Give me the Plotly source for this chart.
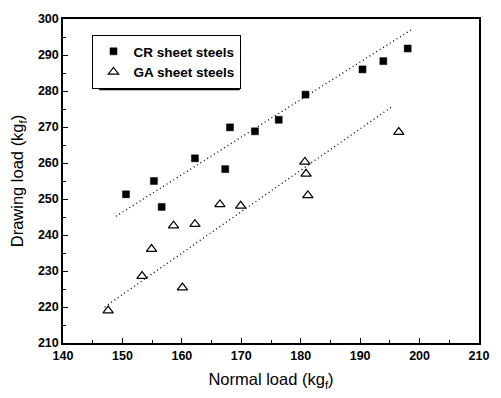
import plotly.graph_objects as go

# CR sheet steels (filled squares)
cr_normal = [150.6, 155.3, 156.6, 162.2, 167.3, 168.1, 172.3, 176.3, 180.8, 190.4, 193.9, 198.0]
cr_drawing = [251.3, 255.0, 247.8, 261.3, 258.3, 269.9, 268.8, 272.0, 279.0, 286.0, 288.3, 291.8]

# GA sheet steels (open triangles)
ga_normal = [147.6, 153.3, 154.9, 158.6, 160.1, 162.2, 166.4, 169.9, 180.7, 180.9, 181.2, 196.5]
ga_drawing = [219.0, 228.6, 236.1, 242.6, 225.4, 243.0, 248.5, 248.1, 260.3, 257.0, 251.0, 268.6]

# fitted trend lines (endpoints)
cr_fit_x = [148.9, 198.6]
cr_fit_y = [245.2, 297.0]
ga_fit_x = [147.0, 195.3]
ga_fit_y = [220.0, 275.6]

x_ticks = [140, 150, 160, 170, 180, 190, 200, 210]
y_ticks = [210, 220, 230, 240, 250, 260, 270, 280, 290, 300]

FONT = "Arial, Liberation Sans"

fig = go.Figure()
for fx, fy in [(cr_fit_x, cr_fit_y), (ga_fit_x, ga_fit_y)]:
    fig.add_trace(go.Scatter(x=fx, y=fy, mode="lines",
                             line=dict(color="black", width=1.3, dash="1px,3px"),
                             showlegend=False, hoverinfo="skip"))
fig.add_trace(go.Scatter(x=cr_normal, y=cr_drawing, mode="markers",
                         name="CR sheet steels",
                         marker=dict(symbol="square", size=7, color="black",
                                     line=dict(color="black", width=0.5))))
fig.add_trace(go.Scatter(x=ga_normal, y=ga_drawing, mode="markers",
                         name="GA sheet steels",
                         marker=dict(symbol="triangle-up-open", size=9, color="black",
                                     line=dict(color="black", width=1.2))))

W, H = 501, 398
L, R, T, B = 63, 12, 19, 52
pw, ph = W - L - R, H - T - B

def px2paper(x, y):
    return (x - L) / pw, 1 - (y - T) / ph

# legend shadow
x0, y0 = px2paper(100, 45)
x1, y1 = px2paper(244, 91)
fig.add_shape(type="rect", xref="paper", yref="paper", x0=x0, y0=y1, x1=x1, y1=y0,
              fillcolor="black", line=dict(width=0), layer="above")

lx, ly = px2paper(93, 35)
axis_common = dict(
    showgrid=False, zeroline=False, showline=True, linecolor="black", linewidth=1.5,
    mirror=True, ticks="inside", ticklen=5, tickwidth=1.3, tickcolor="black",
    tickfont=dict(family=FONT, size=12.5, color="black", weight="bold"),
)
fig.update_layout(
    width=W, height=H,
    margin=dict(l=L, r=R, t=T, b=B),
    paper_bgcolor="white", plot_bgcolor="white",
    xaxis=dict(range=[140, 210], tickvals=x_ticks,
               title=dict(text="Normal load (kg<sub>f</sub>)", standoff=12,
                          font=dict(family=FONT, size=16.5, color="black")),
               minor=dict(ticks="inside", ticklen=3, tickwidth=1, tickcolor="black", dtick=5),
               **axis_common),
    yaxis=dict(range=[210, 300], tickvals=y_ticks,
               title=dict(text="Drawing load (kg<sub>f</sub>)", standoff=10,
                          font=dict(family=FONT, size=16.5, color="black")),
               minor=dict(ticks="inside", ticklen=3, tickwidth=1, tickcolor="black", dtick=5),
               **axis_common),
    legend=dict(x=lx, y=ly, xanchor="left", yanchor="top",
                bgcolor="white", bordercolor="black", borderwidth=1.2,
                font=dict(family=FONT, size=13.5, color="black", weight="bold"),
                tracegroupgap=0, itemwidth=30),
)
fig.write_html("out.html")
